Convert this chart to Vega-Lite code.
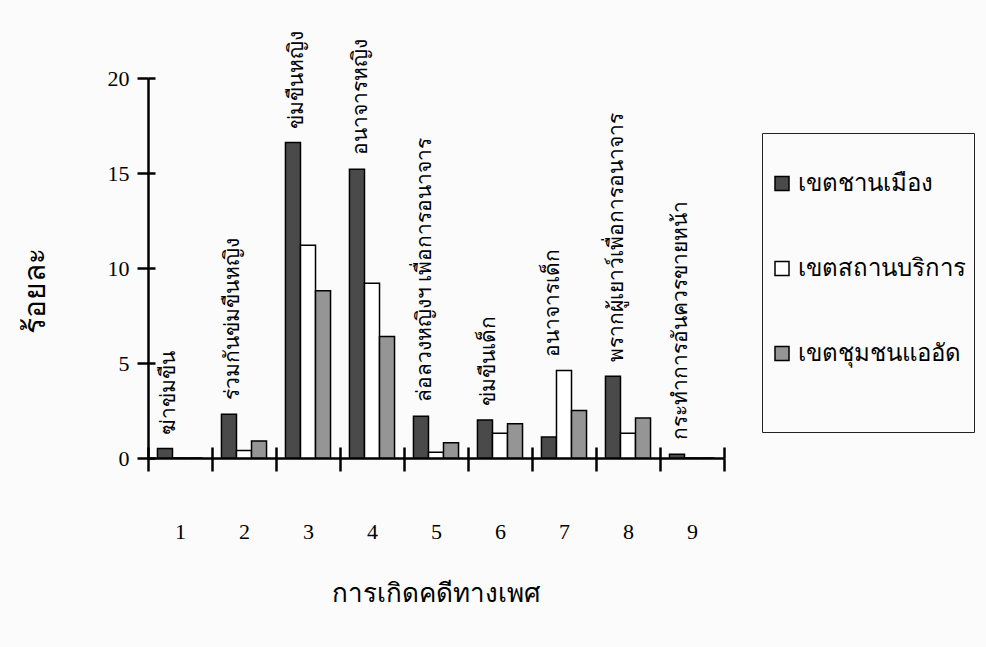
{
  "$schema": "https://vega.github.io/schema/vega-lite/v6.json",
  "width": 576,
  "height": 380,
  "autosize": "none",
  "padding": {"left": 148, "top": 78, "right": 262, "bottom": 189},
  "background": "#fbfbfb",
  "data": {"values": [
    {"category": "1", "label": "ฆ่าข่มขืน", "series": "เขตชานเมือง", "value": 0.5},
    {"category": "1", "label": "ฆ่าข่มขืน", "series": "เขตสถานบริการ", "value": 0},
    {"category": "1", "label": "ฆ่าข่มขืน", "series": "เขตชุมชนแออัด", "value": 0},
    {"category": "2", "label": "ร่วมกันข่มขืนหญิง", "series": "เขตชานเมือง", "value": 2.3},
    {"category": "2", "label": "ร่วมกันข่มขืนหญิง", "series": "เขตสถานบริการ", "value": 0.4},
    {"category": "2", "label": "ร่วมกันข่มขืนหญิง", "series": "เขตชุมชนแออัด", "value": 0.9},
    {"category": "3", "label": "ข่มขืนหญิง", "series": "เขตชานเมือง", "value": 16.6},
    {"category": "3", "label": "ข่มขืนหญิง", "series": "เขตสถานบริการ", "value": 11.2},
    {"category": "3", "label": "ข่มขืนหญิง", "series": "เขตชุมชนแออัด", "value": 8.8},
    {"category": "4", "label": "อนาจารหญิง", "series": "เขตชานเมือง", "value": 15.2},
    {"category": "4", "label": "อนาจารหญิง", "series": "เขตสถานบริการ", "value": 9.2},
    {"category": "4", "label": "อนาจารหญิง", "series": "เขตชุมชนแออัด", "value": 6.4},
    {"category": "5", "label": "ล่อลวงหญิงฯ เพื่อการอนาจาร", "series": "เขตชานเมือง", "value": 2.2},
    {"category": "5", "label": "ล่อลวงหญิงฯ เพื่อการอนาจาร", "series": "เขตสถานบริการ", "value": 0.3},
    {"category": "5", "label": "ล่อลวงหญิงฯ เพื่อการอนาจาร", "series": "เขตชุมชนแออัด", "value": 0.8},
    {"category": "6", "label": "ข่มขืนเด็ก", "series": "เขตชานเมือง", "value": 2.0},
    {"category": "6", "label": "ข่มขืนเด็ก", "series": "เขตสถานบริการ", "value": 1.3},
    {"category": "6", "label": "ข่มขืนเด็ก", "series": "เขตชุมชนแออัด", "value": 1.8},
    {"category": "7", "label": "อนาจารเด็ก", "series": "เขตชานเมือง", "value": 1.1},
    {"category": "7", "label": "อนาจารเด็ก", "series": "เขตสถานบริการ", "value": 4.6},
    {"category": "7", "label": "อนาจารเด็ก", "series": "เขตชุมชนแออัด", "value": 2.5},
    {"category": "8", "label": "พรากผู้เยาว์เพื่อการอนาจาร", "series": "เขตชานเมือง", "value": 4.3},
    {"category": "8", "label": "พรากผู้เยาว์เพื่อการอนาจาร", "series": "เขตสถานบริการ", "value": 1.3},
    {"category": "8", "label": "พรากผู้เยาว์เพื่อการอนาจาร", "series": "เขตชุมชนแออัด", "value": 2.1},
    {"category": "9", "label": "กระทำการอันควรขายหน้า", "series": "เขตชานเมือง", "value": 0.2},
    {"category": "9", "label": "กระทำการอันควรขายหน้า", "series": "เขตสถานบริการ", "value": 0},
    {"category": "9", "label": "กระทำการอันควรขายหน้า", "series": "เขตชุมชนแออัด", "value": 0}
  ]},
  "config": {
    "view": {"stroke": null},
    "axis": {"grid": false, "domainColor": "black", "domainWidth": 2.5, "tickColor": "black", "tickWidth": 2.5, "labelColor": "black", "titleColor": "black"}
  },
  "resolve": {"axis": {"x": "independent", "y": "independent"}},
  "layer": [
    {
      "mark": {"type": "bar", "stroke": "black", "strokeWidth": 1.5},
      "encoding": {
        "x": {
          "field": "category", "type": "ordinal",
          "scale": {"paddingInner": 0, "paddingOuter": 0},
          "axis": {
            "orient": "bottom",
            "title": "การเกิดคดีทางเพศ", "titleFont": "Noto Sans", "titleFontSize": 26, "titleFontWeight": "normal", "titlePadding": 38,
            "labelAngle": 0, "labelFont": "Liberation Serif", "labelFontSize": 22, "labelPadding": 50,
            "tickBand": "extent", "tickSize": 13
          }
        },
        "xOffset": {
          "field": "series", "type": "nominal",
          "sort": ["เขตชานเมือง", "เขตสถานบริการ", "เขตชุมชนแออัด"],
          "scale": {"paddingOuter": 0.63, "paddingInner": 0}
        },
        "y": {
          "field": "value", "type": "quantitative",
          "scale": {"domain": [0, 20]},
          "axis": {
            "orient": "left",
            "values": [0, 5, 10, 15, 20], "title": "ร้อยละ", "titleFont": "Noto Sans", "titleFontSize": 30, "titleFontWeight": "normal",
            "titleX": -113, "titleY": 212, "titleBaseline": "middle", "titleAlign": "center", "titleAngle": 270,
            "labelFont": "Liberation Serif", "labelFontSize": 22, "labelPadding": 8, "tickSize": 11
          }
        },
        "fill": {
          "field": "series", "type": "nominal",
          "sort": ["เขตชานเมือง", "เขตสถานบริการ", "เขตชุมชนแออัด"],
          "scale": {"domain": ["เขตชานเมือง", "เขตสถานบริการ", "เขตชุมชนแออัด"], "range": ["#4a4a4a", "#ffffff", "#959595"]},
          "legend": {
            "orient": "none", "legendX": 614, "legendY": 55,
            "title": " ", "titleOrient": "bottom", "titleFontSize": 18, "titlePadding": 10,
            "padding": 8, "strokeColor": "#222", "fillColor": "#fbfbfb",
            "symbolType": "square", "symbolSize": 196, "symbolStrokeColor": "black", "symbolStrokeWidth": 1.5,
            "labelFont": "Noto Sans", "labelFontSize": 24, "labelColor": "black", "labelOffset": 4,
            "clipHeight": 85, "rowPadding": 0, "labelLimit": 300
          }
        }
      }
    },
    {
      "transform": [{"aggregate": [{"op": "max", "field": "value", "as": "top"}], "groupby": ["category", "label"]}],
      "mark": {"type": "text", "angle": 270, "align": "left", "baseline": "middle", "dx": 14, "dy": -11, "fontSize": 21, "font": "Noto Sans", "color": "black"},
      "encoding": {
        "x": {
          "field": "category", "type": "ordinal",
          "axis": {"orient": "bottom", "title": null, "labels": false, "domain": false, "tickBand": "extent", "tickSize": 11, "offset": -11}
        },
        "y": {
          "field": "top", "type": "quantitative",
          "axis": {"orient": "left", "title": null, "labels": false, "domain": false, "values": [0, 5, 10, 15, 20], "tickSize": 7, "offset": -7}
        },
        "text": {"field": "label"}
      }
    }
  ]
}
